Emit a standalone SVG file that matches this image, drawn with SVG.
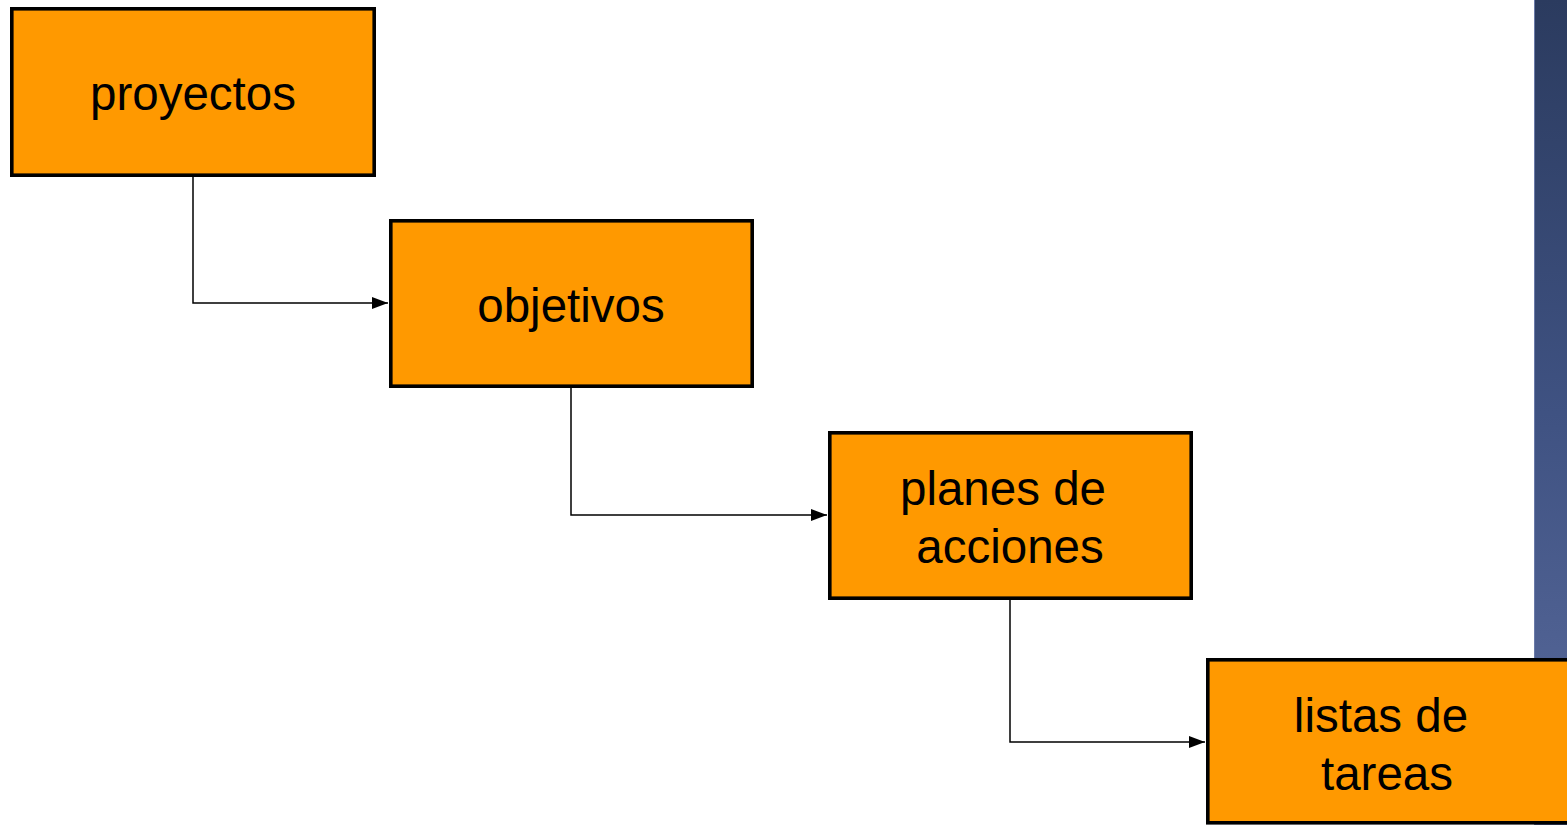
<svg xmlns="http://www.w3.org/2000/svg" width="1567" height="825" viewBox="0 0 1567 825">
  <defs>
    <linearGradient id="sideband" x1="0" y1="0" x2="0" y2="1">
      <stop offset="0" stop-color="#2b3b5f"/>
      <stop offset="0.5" stop-color="#3f5282"/>
      <stop offset="1" stop-color="#5b6c9e"/>
    </linearGradient>
    <marker id="arrow" viewBox="0 0 16 12" refX="16" refY="6" markerWidth="16" markerHeight="12" markerUnits="userSpaceOnUse" orient="auto">
      <path d="M0,0 L16,6 L0,12 Z" fill="#000"/>
    </marker>
    <style>
      .box { fill: #ff9900; stroke: #000; stroke-width: 3.6; }
      .label { font-family: "Liberation Sans", Arial, sans-serif; font-size: 47.5px; fill: #000; text-anchor: middle; }
      .link { fill: none; stroke: #000; stroke-width: 1.5; marker-end: url(#arrow); }
    </style>
  </defs>

  <rect width="1567" height="825" fill="#fff"/>
  <!-- decorative band on the right edge -->
  <rect x="1534" y="0" width="33" height="825" fill="url(#sideband)"/>
  <line x1="1534.5" y1="0" x2="1534.5" y2="825" stroke="#6a7aa8" stroke-width="1"/>

  <g id="connectors">
    <path class="link" d="M193,177 V303 H388"/>
    <path class="link" d="M571,388 V515 H827"/>
    <path class="link" d="M1010,600 V742 H1205"/>
  </g>

  <g id="proyectos">
    <rect class="box" x="11.8" y="8.8" width="362.4" height="166.4"/>
    <text class="label" x="193" y="110">proyectos</text>
  </g>

  <g id="objetivos">
    <rect class="box" x="390.8" y="220.8" width="361.4" height="165.4"/>
    <text class="label" x="571" y="322">objetivos</text>
  </g>

  <g id="planes">
    <rect class="box" x="829.8" y="432.8" width="361.4" height="165.4"/>
    <text class="label" x="1003" y="505">planes de</text>
    <text class="label" x="1010" y="563">acciones</text>
  </g>

  <g id="listas">
    <rect class="box" x="1207.8" y="659.8" width="362" height="163"/>
    <text class="label" x="1381" y="732">listas de</text>
    <text class="label" x="1387" y="790">tareas</text>
  </g>
</svg>
